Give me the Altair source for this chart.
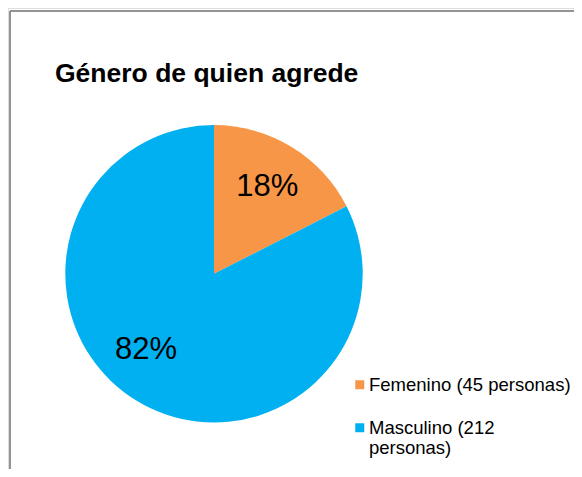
import altair as alt
import pandas as pd

categories = ["Femenino", "Masculino"]
counts = [45, 212]
legend_labels = ["Femenino (45 personas)", "Masculino (212 personas)"]
pct_labels = ["18%", "82%"]
colors = ["#F79646", "#00B0F0"]

df = pd.DataFrame({
    "category": categories,
    "count": counts,
    "legend": legend_labels,
    "pct": pct_labels,
})

W, H = 566, 461
CX, CY = 206, 265.75
R = 148.7
FONT = "Liberation Sans"

theta = alt.Theta("count:Q", stack=True)
order = alt.Order("legend:N", sort="ascending")

arc = alt.Chart(df).mark_arc(outerRadius=R, strokeWidth=0).encode(
    theta=theta,
    order=order,
    color=alt.Color(
        "legend:N",
        scale=alt.Scale(domain=legend_labels, range=colors),
        legend=alt.Legend(
            title=None,
            orient="none",
            legendX=342.5,
            legendY=367.5,
            symbolType="square",
            symbolSize=81,
            symbolStrokeWidth=0,
            labelFont=FONT,
            labelFontSize=18.5,
            labelColor="black",
            labelLimit=400,
            labelOffset=0,
            rowPadding=24,
            padding=0,
            labelExpr="datum.label == 'Masculino (212 personas)' ? ['Masculino (212', 'personas)'] : datum.label",
        ),
    ),
    x=alt.value(CX),
    y=alt.value(CY),
)

text_f = alt.Chart(df).transform_calculate(
    lab="datum.category == 'Femenino' ? datum.pct : ''"
).mark_text(radius=102, font=FONT, fontSize=31, color="black", baseline="middle").encode(
    theta=theta,
    order=order,
    detail="legend:N",
    text="lab:N",
    x=alt.value(CX),
    y=alt.value(CY),
)

text_m = alt.Chart(df).transform_calculate(
    lab="datum.category == 'Masculino' ? datum.pct : ''"
).mark_text(radius=102, font=FONT, fontSize=31, color="black", baseline="middle",
            dx=-14.7, dy=-11).encode(
    theta=theta,
    order=order,
    detail="legend:N",
    text="lab:N",
    x=alt.value(CX),
    y=alt.value(CY),
)

frame_left = alt.Chart(df).mark_rule(color="#8c8c8c", strokeWidth=1.5).encode(
    x=alt.value(2), y=alt.value(3), y2=alt.value(H)
)
frame_top = alt.Chart(df).mark_rule(color="#8c8c8c", strokeWidth=1.5).encode(
    y=alt.value(3), x=alt.value(2), x2=alt.value(W)
)

chart = alt.layer(frame_left, frame_top, arc, text_f, text_m).properties(
    width=W,
    height=H,
    autosize=alt.AutoSizeParams(type="none"),
    padding=0,
    title=alt.TitleParams(
        "Género de quien agrede",
        anchor="start",
        font=FONT,
        fontSize=26.5,
        fontWeight="bold",
        color="black",
        baseline="alphabetic",
        offset=0,
        dx=47,
        dy=100,
    ),
).configure_view(stroke=None).configure(background="white")

chart.save("out.html", embed_options={"renderer": "svg", "actions": False})
